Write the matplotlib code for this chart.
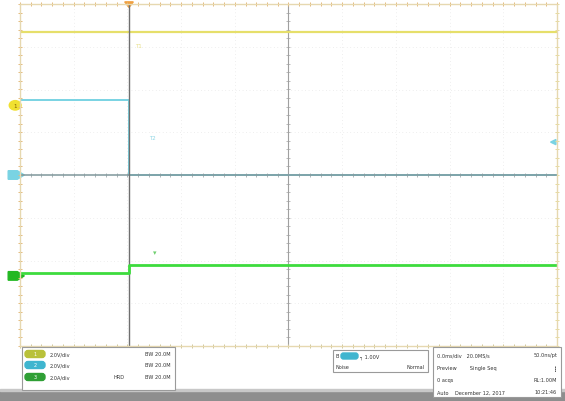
import numpy as np
import matplotlib
matplotlib.use("Agg")
import matplotlib.pyplot as plt
from matplotlib.patches import Rectangle, FancyBboxPatch, Circle, Polygon

# screen values, in graticule divisions (x: 0..10, y: -4..4)
trig_t = 2.03
ch1_t = [0.0, 10.0]
ch1_v = [3.35, 3.35]
ch2_t = [0.0, 2.03, 2.03, 10.0]
ch2_v = [1.75, 1.75, 0.0, 0.0]
ch3_t = [0.0, 2.03, 2.03, 10.0]
ch3_v = [-2.29, -2.29, -2.10, -2.10]
gnd_levels = [1.63, 0.0, -2.36]          # ch1, ch2, ch3 ground markers
trig_level = 0.77                         # ch2 trigger level marker (right side)

ch_colors = ["#e6df6a", "#79d3e3", "#3ddc3d"]
badge_colors = ["#b9c13a", "#3fb5cf", "#2f9f35"]
ch_scale = ["2.0V/div", "2.0V/div", "2.0A/div"]
ch_bw = ["BW 20.0M", "BW 20.0M", "BW 20.0M"]

W, H = 565, 402
fig = plt.figure(figsize=(W / 100, H / 100), dpi=100)
fig.patch.set_facecolor("white")

px = lambda x0, y0, w, h: [x0 / W, 1 - (y0 + h) / H, w / W, h / H]
ax = fig.add_axes(px(20, 5, 537, 342))
ax.set_xlim(0, 10); ax.set_ylim(-4, 4)
ax.set_xticks([]); ax.set_yticks([])
for s in ax.spines.values():
    s.set_color("#e6d8b0"); s.set_linewidth(1.0)

# graticule
for gx in range(1, 10):
    if gx != 5:
        ax.axvline(gx, color="#e0e0e0", lw=0.5, ls=(0, (1, 4)))
for gy in range(-3, 4):
    if gy != 0:
        ax.axhline(gy, color="#e0e0e0", lw=0.5, ls=(0, (1, 4)))
ax.axvline(5, color="#a0a0a0", lw=0.8)
mt = np.arange(0, 10.01, 0.2)
mv = np.arange(-4, 4.01, 0.2)
ax.plot(np.full_like(mv, 5), mv, "_", color="#a0a0a0", ms=2.5, mew=0.5)
# edge ticks (tan)
ax.plot(mt, np.full_like(mt, 4), "|", color="#e4b878", ms=3, mew=0.7, clip_on=False)
ax.plot(mt, np.full_like(mt, -4), "|", color="#cfc79a", ms=3, mew=0.7, clip_on=False)
ax.plot(np.zeros_like(mv), mv, "_", color="#e4b878", ms=3, mew=0.7, clip_on=False)
ax.plot(np.full_like(mv, 10), mv, "_", color="#e8dc98", ms=3, mew=0.7, clip_on=False)

# traces
ax.plot(ch1_t, ch1_v, color=ch_colors[0], lw=1.6)
ax.plot(ch2_t, ch2_v, color=ch_colors[1], lw=1.4)
ax.axhline(0, color="#7f979b", lw=1.1)
ax.plot(mt, np.zeros_like(mt), "|", color="#8a9a9e", ms=2.5, mew=0.5)
ax.axvline(trig_t, color="#6f6f6f", lw=1.0)
ax.plot(ch3_t, ch3_v, color=ch_colors[2], lw=2.0)

# faint labels near the edge
ax.text(trig_t + 0.12, 3.0, "T1", color="#e8e08a", fontsize=4)
ax.text(trig_t + 0.38, 0.85, "T2", color="#8fd6e4", fontsize=4)
ax.text(trig_t + 0.45, -1.85, "\u25BE", color="#6fcf6f", fontsize=5)

# ground markers on left edge
ax.add_patch(Circle((-0.09, gnd_levels[0]), 0.11, transform=ax.transData,
                    color="#f0e030", clip_on=False))
ax.text(-0.09, gnd_levels[0], "1", fontsize=4, ha="center", va="center", color="#806000")
for lvl, c in zip(gnd_levels[1:], [ch_colors[1], "#22b822"]):
    ax.add_patch(Polygon([(-0.22, lvl + 0.1), (-0.05, lvl + 0.1), (0.08, lvl),
                          (-0.05, lvl - 0.1), (-0.22, lvl - 0.1)],
                         color=c, clip_on=False))
# trigger position / level markers
ax.add_patch(Polygon([(trig_t - 0.08, 4.05), (trig_t + 0.08, 4.05), (trig_t, 3.92)],
                     color="#f0a040", clip_on=False))
ax.add_patch(Polygon([(9.98, trig_level + 0.06), (9.98, trig_level - 0.06), (9.88, trig_level)],
                     color=ch_colors[1], clip_on=False))

# info panel, pixel coordinates
ov = fig.add_axes([0, 0, 1, 1], facecolor="none")
ov.set_xlim(0, W); ov.set_ylim(H, 0); ov.axis("off")
ov.add_patch(Rectangle((0, 392), W, 10, color="#8e8e8e"))
ov.add_patch(Rectangle((0, 390), W, 2, color="#c8c8c8"))

def box(x0, y0, w, h):
    ov.add_patch(Rectangle((x0, y0), w, h, facecolor="white", edgecolor="#9a9a9a", lw=0.8))

fs = 3.6
box(22, 348, 153, 43)
for i, y in enumerate([355, 366, 378]):
    ov.add_patch(FancyBboxPatch((25, y - 3.5), 20, 7, boxstyle="round,pad=0,rounding_size=3",
                                color=badge_colors[i]))
    ov.text(35, y, str(i + 1), fontsize=fs, ha="center", va="center", color="white")
    ov.text(50, y, ch_scale[i], fontsize=fs, va="center", color="#333333")
    ov.text(171, y, ch_bw[i], fontsize=fs, va="center", ha="right", color="#333333")
ov.text(124, 378, "HRD", fontsize=fs, va="center", ha="right", color="#333333")

box(333, 351, 95, 22)
ov.text(336, 357, "B", fontsize=fs, va="center", color="#333333")
ov.add_patch(FancyBboxPatch((341, 354), 17, 6, boxstyle="round,pad=0,rounding_size=2.5",
                            color=badge_colors[1]))
ov.text(360, 357, "\u2510 1.00V", fontsize=fs, va="center", color="#333333")
ov.text(336, 368, "Noise", fontsize=fs, va="center", color="#333333")
ov.text(425, 368, "Normal", fontsize=fs, va="center", ha="right", color="#333333")

box(433, 348, 128, 50)
rows = [("0.0ms/div   20.0MS/s", "50.0ns/pt", 356),
        ("Preview        Single Seq", "\u2507", 369),
        ("0 acqs", "RL:1.00M", 381),
        ("Auto    December 12, 2017", "10:21:46", 393)]
for left, right, y in rows:
    ov.text(437, y, left, fontsize=fs, va="center", color="#333333")
    ov.text(557, y, right, fontsize=fs, va="center", ha="right", color="#333333")

fig.savefig("out.png", dpi=100, facecolor="white")
